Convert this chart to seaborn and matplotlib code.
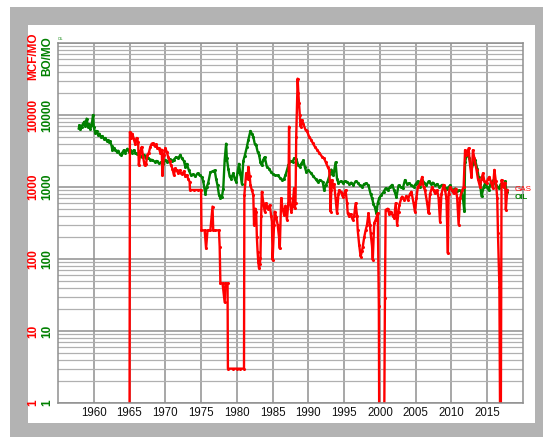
import numpy as np
import pandas as pd
import matplotlib
matplotlib.use("Agg")
import matplotlib.pyplot as plt
import seaborn as sns
from matplotlib.patches import Rectangle
from matplotlib.ticker import LogLocator, NullFormatter
import matplotlib.transforms as mtransforms

# oil production (BO/MO)
oil_year = [1957.9, 1958.0, 1958.1, 1958.3, 1958.5, 1958.7, 1958.8, 1959.0, 1959.2, 1959.3,
            1959.5, 1959.7, 1959.9, 1960.0, 1960.2, 1960.4, 1960.6, 1960.8, 1961.0, 1961.2,
            1961.4, 1961.6, 1961.8, 1962.0, 1962.1, 1962.3, 1962.5, 1962.6, 1962.8, 1963.0,
            1963.2, 1963.4, 1963.6, 1963.8, 1964.0, 1964.2, 1964.4, 1964.7, 1964.9, 1965.1,
            1965.3, 1965.6, 1965.8, 1966.0, 1966.3, 1966.5, 1966.8, 1967.0, 1967.3, 1967.6,
            1967.9, 1968.2, 1968.5, 1968.8, 1969.1, 1969.4, 1969.7, 1970.0, 1970.3, 1970.6,
            1970.9, 1971.2, 1971.5, 1971.8, 1972.1, 1972.3, 1972.6, 1972.8, 1973.0, 1973.3,
            1973.6, 1973.9, 1974.2, 1974.5, 1974.8, 1975.1, 1975.3, 1975.6, 1975.8, 1976.0,
            1976.3, 1976.6, 1976.9, 1977.1, 1977.3, 1977.5, 1977.7, 1977.9, 1978.1, 1978.3,
            1978.5, 1978.6, 1978.8, 1979.0, 1979.2, 1979.5, 1979.7, 1979.9, 1980.1, 1980.3,
            1980.5, 1980.7, 1980.9, 1981.1, 1981.4, 1981.6, 1981.9, 1982.1, 1982.3, 1982.5,
            1982.7, 1982.9, 1983.1, 1983.3, 1983.5, 1983.7, 1983.9, 1984.2, 1984.5, 1984.8,
            1985.1, 1985.4, 1985.7, 1986.0, 1986.3, 1986.6, 1986.8, 1987.0, 1987.2, 1987.5,
            1987.8, 1988.0, 1988.3, 1988.6, 1988.8, 1989.0, 1989.3, 1989.5, 1989.7, 1990.0,
            1990.4, 1990.7, 1991.0, 1991.3, 1991.6, 1992.0, 1992.2, 1992.4, 1992.7, 1993.0,
            1993.2, 1993.5, 1993.8, 1994.0, 1994.2, 1994.5, 1994.8, 1995.1, 1995.4, 1995.7,
            1996.0, 1996.3, 1996.6, 1996.9, 1997.2, 1997.5, 1997.8, 1998.1, 1998.4, 1998.7,
            1998.9, 1999.1, 1999.3, 1999.5, 1999.7, 1999.9, 2000.2, 2000.5, 2000.8, 2001.1,
            2001.4, 2001.7, 2002.0, 2002.3, 2002.6, 2002.9, 2003.2, 2003.5, 2003.8, 2004.1,
            2004.4, 2004.7, 2005.0, 2005.3, 2005.6, 2005.9, 2006.2, 2006.5, 2006.8, 2007.1,
            2007.4, 2007.7, 2008.0, 2008.3, 2008.7, 2009.0, 2009.4, 2009.8, 2010.1, 2010.5,
            2010.8, 2011.1, 2011.4, 2011.6, 2011.8, 2011.9, 2012.1, 2012.3, 2012.5, 2012.8,
            2013.0, 2013.3, 2013.6, 2013.8, 2014.0, 2014.2, 2014.5, 2014.7, 2015.0, 2015.2,
            2015.5, 2015.9, 2016.2, 2016.6, 2016.9, 2017.3, 2017.5, 2017.7]
oil_rate = [6500, 7200, 6300, 6900, 7600, 8100, 7000, 8900, 6900, 7400,
            6400, 7200, 10000, 6800, 5600, 6000, 5300, 5500, 4900, 5100,
            4700, 4800, 4400, 4500, 4200, 4300, 3700, 3250, 3500, 3300,
            3100, 3200, 2900, 2780, 3000, 3250, 3000, 3400, 3100, 3300,
            3000, 3250, 3000, 2900, 2950, 2700, 2650, 2800, 2500, 2550,
            2400, 2370, 2250, 2300, 2130, 2200, 2100, 2370, 2250, 2450,
            2300, 2400, 2600, 2500, 2800, 2500, 2300, 1900, 2100, 1700,
            1450, 1500, 1400, 1550, 1450, 1380, 1200, 800, 1000, 1150,
            1600, 1650, 1700, 1300, 1050, 780, 700, 720, 950, 2400,
            4000, 2500, 1800, 1400, 1300, 1550, 1300, 1180, 1600, 2100,
            1500, 1100, 2300, 2700, 3600, 4500, 6000, 5500, 5000, 4000,
            3800, 3100, 2800, 2200, 2000, 2400, 2600, 1900, 1800, 1600,
            1500, 1450, 1450, 1350, 1250, 1300, 1460, 1700, 2000, 2300,
            2250, 2500, 2450, 2000, 1900, 2100, 2350, 1900, 1620, 1700,
            1550, 1400, 1300, 1180, 1250, 1180, 900, 1050, 1200, 1500,
            1750, 1450, 2200, 1300, 1130, 1200, 1150, 1200, 1180, 1100,
            1150, 1070, 1200, 1150, 1050, 1000, 1100, 1130, 1050, 800,
            700, 580, 520, 430, 600, 700, 780, 850, 960, 900,
            1000, 1070, 900, 720, 1050, 1000, 960, 1250, 1100, 1130,
            1050, 1000, 1100, 1200, 1000, 1250, 1150, 1050, 1200, 1100,
            1150, 1050, 1100, 1000, 1070, 1000, 950, 1050, 900, 950,
            880, 900, 860, 700, 460, 2200, 2700, 2950, 2500, 1730,
            2100, 2370, 1800, 1380, 1100, 740, 1000, 1130, 1000, 900,
            1150, 1250, 1050, 960, 1100, 1000, 1200, 860]

# gas production (MCF/MO); 0.5 marks months with no gas (below the axis)
gas_year = [1965.0, 1965.05, 1965.2, 1965.4, 1965.6, 1965.8, 1966.0, 1966.2, 1966.3, 1966.5,
            1966.7, 1966.9, 1967.1, 1967.3, 1967.5, 1967.7, 1967.9, 1968.1, 1968.3, 1968.5,
            1968.7, 1968.9, 1969.1, 1969.3, 1969.5, 1969.6, 1969.8, 1970.0, 1970.2, 1970.4,
            1970.6, 1970.8, 1971.0, 1971.2, 1971.4, 1971.6, 1971.8, 1972.0, 1972.2, 1972.4,
            1972.6, 1972.8, 1973.0, 1973.2, 1973.4, 1973.45, 1974.0, 1974.5, 1975.0, 1975.05,
            1975.5, 1975.7, 1975.9, 1976.3, 1976.6, 1976.7, 1977.0, 1977.5, 1977.6, 1977.7,
            1978.0, 1978.3, 1978.4, 1978.7, 1978.75, 1979.5, 1980.0, 1980.5, 1981.0, 1981.05,
            1981.3, 1981.5, 1981.6, 1981.8, 1981.9, 1982.1, 1982.3, 1982.4, 1982.6, 1982.7,
            1982.8, 1982.9, 1983.0, 1983.1, 1983.2, 1983.3, 1983.4, 1983.5, 1983.7, 1983.9,
            1984.1, 1984.3, 1984.6, 1984.8, 1984.9, 1985.0, 1985.2, 1985.3, 1985.5, 1985.7,
            1985.9, 1986.0, 1986.2, 1986.4, 1986.6, 1986.8, 1987.0, 1987.2, 1987.3, 1987.4,
            1987.6, 1987.8, 1988.0, 1988.1, 1988.2, 1988.3, 1988.5, 1988.6, 1988.7, 1988.8,
            1988.9, 1989.1, 1989.3, 1989.6, 1989.8, 1990.1, 1990.4, 1990.6, 1990.9, 1991.2,
            1991.5, 1991.9, 1992.2, 1992.4, 1992.7, 1992.9, 1993.0, 1993.1, 1993.2, 1993.3,
            1993.5, 1993.6, 1993.8, 1994.0, 1994.2, 1994.3, 1994.6, 1994.8, 1995.0, 1995.2,
            1995.4, 1995.5, 1995.7, 1995.9, 1996.2, 1996.4, 1996.6, 1996.8, 1996.9, 1997.1,
            1997.3, 1997.5, 1997.6, 1997.8, 1998.0, 1998.2, 1998.4, 1998.6, 1998.7, 1998.9,
            1999.0, 1999.2, 1999.4, 1999.7, 1999.85, 1999.9, 2000.3, 2000.6, 2000.7, 2000.8,
            2001.1, 2001.3, 2001.5, 2001.8, 2002.0, 2002.2, 2002.4, 2002.6, 2002.7, 2003.0,
            2003.1, 2003.4, 2003.7, 2003.9, 2004.2, 2004.4, 2004.7, 2004.9, 2005.1, 2005.3,
            2005.6, 2005.9, 2006.1, 2006.3, 2006.6, 2006.8, 2007.0, 2007.3, 2007.5, 2007.7,
            2008.0, 2008.2, 2008.4, 2008.6, 2008.9, 2009.1, 2009.3, 2009.5, 2009.6, 2009.8,
            2010.1, 2010.3, 2010.6, 2010.8, 2011.0, 2011.2, 2011.5, 2011.7, 2011.9, 2012.1,
            2012.4, 2012.6, 2012.8, 2013.0, 2013.2, 2013.5, 2013.7, 2014.0, 2014.2, 2014.4,
            2014.6, 2014.9, 2015.1, 2015.3, 2015.6, 2015.8, 2016.0, 2016.2, 2016.4, 2016.5,
            2016.7, 2016.8, 2016.9, 2017.0, 2017.2, 2017.3, 2017.5, 2017.6, 2017.8]
gas_rate = [0.5, 5800, 4800, 5500, 4600, 3900, 4800, 4200, 2000, 3000,
            3600, 2600, 2000, 2100, 2780, 3000, 3600, 4000, 4050, 3700,
            3900, 3500, 3450, 3000, 3300, 1460, 2800, 3450, 3100, 2600,
            2300, 2000, 1800, 1460, 1820, 1700, 1550, 1700, 1550, 1500,
            1650, 1400, 1460, 1300, 1180, 910, 910, 910, 910, 250,
            250, 140, 250, 250, 535, 250, 250, 250, 148, 46,
            46, 25, 46, 46, 3, 3, 3, 3, 3, 775,
            1550, 1300, 1900, 1400, 1070, 900, 775, 300, 500, 455,
            200, 126, 90, 74, 85, 102, 400, 860, 600, 455,
            595, 500, 560, 400, 330, 97, 300, 455, 380, 300,
            200, 140, 700, 500, 410, 550, 350, 600, 6900, 700,
            455, 560, 960, 505, 600, 5000, 32000, 20000, 14500, 10000,
            6900, 8500, 7500, 6200, 6000, 5000, 4500, 4100, 3640, 3300,
            3000, 2640, 2500, 2240, 1900, 1730, 1200, 455, 900, 1250,
            1000, 1100, 700, 430, 800, 900, 850, 735, 800, 900,
            600, 430, 390, 420, 350, 400, 595, 400, 250, 157,
            108, 130, 148, 200, 250, 300, 430, 300, 228, 150,
            97, 315, 350, 430, 22, 0.5, 0.5, 0.5, 29, 480,
            500, 420, 455, 400, 370, 595, 300, 450, 560, 700,
            735, 660, 750, 660, 800, 860, 600, 455, 700, 1000,
            1100, 1380, 1000, 900, 600, 430, 800, 1000, 900, 815,
            900, 700, 330, 800, 1070, 900, 700, 120, 800, 1000,
            900, 815, 950, 700, 300, 700, 900, 1000, 3250, 2800,
            3450, 2000, 1380, 3250, 2500, 1730, 1300, 1000, 1300, 1550,
            1200, 1130, 1300, 1380, 1100, 960, 1730, 1200, 700, 228,
            41, 0.5, 0.5, 1250, 1100, 1000, 1150, 480, 910]

y_ticks = [1, 10, 100, 1000, 10000]
x_ticks = list(range(1960, 2020, 5))

RED = "#ff0000"
GREEN = "#008000"
GRID = "#8f8f8f"

oil = pd.DataFrame({"year": oil_year, "rate": oil_rate})
gas = pd.DataFrame({"year": gas_year, "rate": gas_rate})

W, H = 543, 437
fig = plt.figure(figsize=(W / 100, H / 100), dpi=100)
plt.rcParams["font.family"] = ["Liberation Sans", "DejaVu Sans"]

# grey frame and white inner panel, kept behind the axes
fig.patches.append(Rectangle((10 / W, 0), 1 - 10 / W, 1 - 7 / H, transform=fig.transFigure,
                             facecolor="#b3b3b3", edgecolor="none", zorder=-5))
fig.patches.append(Rectangle((28 / W, 1 - 423 / H), (535 - 28) / W, (423 - 25) / H,
                             transform=fig.transFigure, facecolor="white",
                             edgecolor="none", zorder=-4))

ax = fig.add_axes([58 / W, 1 - 403 / H, (523 - 58) / W, (403 - 43) / H])
ax.set_zorder(2)
ax.set_facecolor("white")

sns.lineplot(data=oil, x="year", y="rate", ax=ax, color=GREEN, marker="o",
             markersize=2.2, markeredgewidth=0, linewidth=1.7, estimator=None, sort=False)
sns.lineplot(data=gas, x="year", y="rate", ax=ax, color=RED, marker="o",
             markersize=2.2, markeredgewidth=0, linewidth=1.7, estimator=None, sort=False)

ax.set_yscale("log")
ax.set_ylim(1, 1e5)
ax.set_xlim(1955, 2020)
ax.set_xticks(x_ticks)
ax.set_yticks(y_ticks + [1e5])
ax.yaxis.set_minor_locator(LogLocator(base=10, subs=np.arange(2, 10)))
ax.yaxis.set_minor_formatter(NullFormatter())
ax.set_yticklabels([])
ax.set_xticklabels([str(t) for t in x_ticks], fontsize=8.3, color="#111111")
ax.tick_params(which="both", length=0)
ax.tick_params(axis="x", pad=3)
ax.set_xlabel("")
ax.set_ylabel("")

ax.grid(which="major", color=GRID, linewidth=1.1)
ax.grid(which="minor", axis="y", color="#b0b0b0", linewidth=0.9)
ax.set_axisbelow(True)
for s in ax.spines.values():
    s.set_color(GRID)
    s.set_linewidth(1.1)

# two columns of y labels, red for gas and green for oil
trans = mtransforms.blended_transform_factory(ax.transAxes, ax.transData)
xr = (33 - 58) / (523 - 58)
xg = (47.5 - 58) / (523 - 58)
for v in y_ticks:
    ax.text(xr, v, str(v), transform=trans, rotation=90, color=RED, fontsize=8.5,
            fontweight="bold", ha="center", va="center", clip_on=False)
    ax.text(xg, v, str(v), transform=trans, rotation=90, color=GREEN, fontsize=8.5,
            fontweight="bold", ha="center", va="center", clip_on=False)
fig.text(33 / W, 1 - 56.5 / H, "MCF/MO", rotation=90, color=RED, fontsize=8.5,
         fontweight="bold", ha="center", va="center")
fig.text(47.5 / W, 1 - 56.5 / H, "BO/MO", rotation=90, color=GREEN, fontsize=8.5,
         fontweight="bold", ha="center", va="center")
fig.text(58 / W, 1 - 39.5 / H, "OIL", color=GREEN, fontsize=2.5, ha="left", va="center")

# series tags at the right end
xe = (515 - 58) / (523 - 58)
ax.text(xe, 935, "GAS", transform=trans, color=RED, fontsize=5.8, ha="left",
        va="center", clip_on=False)
ax.text(xe, 705, "OIL", transform=trans, color=GREEN, fontsize=5.8, ha="left",
        va="center", clip_on=False, fontweight="bold")

fig.savefig("out.png", dpi=100)
